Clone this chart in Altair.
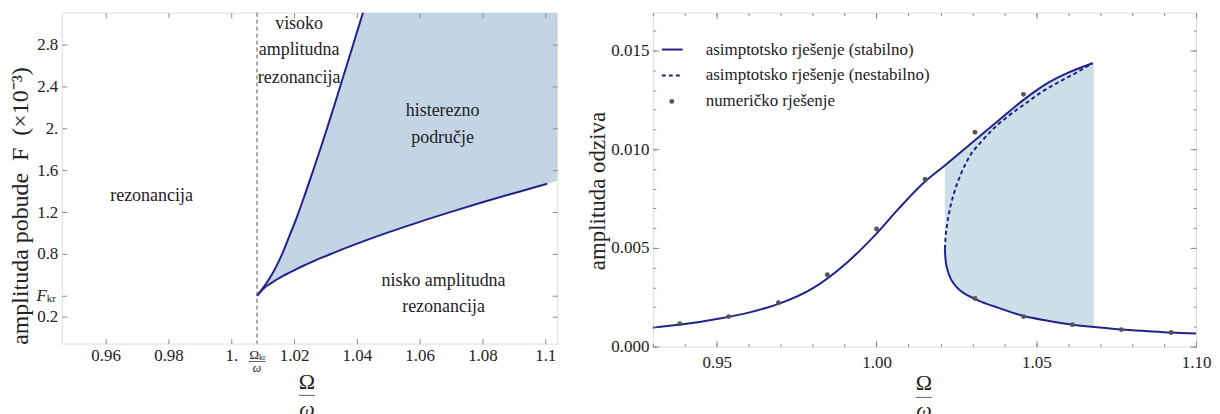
import altair as alt
import pandas as pd

FONT = "Liberation Serif"
INK = "#222222"
FRAME = "#8c8c8c"
LINE = "#22228a"
FILL_L = "#c3d5e4"
FILL_R = "#cddfe9"
DOT = "#555555"

# ---------------- left panel data ----------------
L_X_DOMAIN = [0.94603, 1.1038]
L_Y_DOMAIN = [-0.0571, 3.105]
OMEGA_KR = 1.0082
F_KR = 0.40

upper_x = [1.0082, 1.0105, 1.0127, 1.0145, 1.0165, 1.0185, 1.0205, 1.0228, 1.026, 1.029, 1.032, 1.0349, 1.038, 1.042]
upper_y = [0.40, 0.49, 0.59, 0.69, 0.82, 0.97, 1.12, 1.31, 1.59, 1.86, 2.14, 2.42, 2.72, 3.11]

lower_x = [1.0082, 1.0105, 1.0127, 1.0145, 1.0165, 1.0185, 1.0205, 1.0228, 1.026, 1.029,
           1.032, 1.0349, 1.038, 1.042, 1.05, 1.06, 1.07, 1.08, 1.09, 1.1006]
lower_y = [0.40, 0.475, 0.52, 0.555, 0.59, 0.62, 0.65, 0.684, 0.727, 0.766,
           0.803, 0.838, 0.874, 0.919, 1.005, 1.106, 1.201, 1.293, 1.38, 1.47]

fill_l_x = [1.0082, 1.0105, 1.0127, 1.0145, 1.0165, 1.0185, 1.0205, 1.0228, 1.026, 1.029,
            1.032, 1.0349, 1.038, 1.042, 1.05, 1.06, 1.07, 1.08, 1.09, 1.1006, 1.104]
fill_l_low = [0.40, 0.475, 0.52, 0.555, 0.59, 0.62, 0.65, 0.684, 0.727, 0.766,
              0.803, 0.838, 0.874, 0.919, 1.005, 1.106, 1.201, 1.293, 1.38, 1.47, 1.498]
fill_l_high = [0.40, 0.49, 0.59, 0.69, 0.82, 0.97, 1.12, 1.31, 1.59, 1.86,
               2.14, 2.42, 2.72, 3.11, 3.3, 3.3, 3.3, 3.3, 3.3, 3.3, 3.3]

L_XTICKS = [0.96, 0.98, 1.0, 1.02, 1.04, 1.06, 1.08, 1.1]
L_XLABELS = ["0.96", "0.98", "1.", "1.02", "1.04", "1.06", "1.08", "1.1"]
L_YTICKS = [0.2, 0.4, 0.8, 1.2, 1.6, 2.0, 2.4, 2.8]
L_YLABELS = ["0.2", "", "0.8", "1.2", "1.6", "2.", "2.4", "2.8"]

ann_text = ["rezonancija", "visoko", "amplitudna", "rezonancija", "histerezno", "područje",
            "nisko amplitudna", "rezonancija"]
ann_x = [0.9746, 1.0216, 1.0216, 1.0216, 1.0673, 1.0673, 1.0676, 1.0676]
ann_y = [1.352, 3.0, 2.752, 2.476, 2.162, 1.905, 0.543, 0.295]

# ---------------- right panel data ----------------
R_X_DOMAIN = [0.93, 1.10]
R_Y_DOMAIN = [0.0, 0.016919]

stab_x = [0.93, 0.94, 0.95, 0.96, 0.97, 0.98, 0.99, 1.00, 1.007, 1.0152, 1.0211, 1.0308,
          1.038, 1.046, 1.053, 1.060, 1.0676]
stab_y = [0.00096, 0.00114, 0.00140, 0.00172, 0.00220, 0.00295, 0.00415, 0.00572, 0.00700,
          0.00836, 0.00914, 0.01045, 0.01143, 0.01250, 0.01330, 0.01388, 0.01436]

low_x = [1.0214, 1.0216, 1.0221, 1.0229, 1.0242, 1.0262, 1.0290, 1.0330, 1.0382, 1.046,
         1.054, 1.0613, 1.07, 1.0766, 1.085, 1.0922, 1.10]
low_y = [0.00495, 0.00440, 0.00395, 0.00355, 0.00318, 0.00284, 0.00255, 0.00225, 0.00196,
         0.00155, 0.00130, 0.00111, 0.00097, 0.00087, 0.00078, 0.00071, 0.00066]

unst_x = [1.0214, 1.0216, 1.0221, 1.0230, 1.0245, 1.0264, 1.029, 1.0329, 1.037, 1.0414,
          1.0465, 1.0517, 1.057, 1.0623, 1.0676]
unst_y = [0.00495, 0.0055, 0.0062, 0.0070, 0.0079, 0.00874, 0.0096, 0.0104, 0.0111, 0.0117,
          0.01230, 0.01290, 0.0134, 0.01386, 0.01436]

fill_r_x = [1.0214, 1.0216, 1.0221, 1.0229, 1.0242, 1.0262, 1.029, 1.033, 1.0382, 1.046,
            1.054, 1.0613, 1.068]
fill_r_low = [0.00495, 0.0044, 0.00395, 0.00355, 0.00318, 0.00284, 0.00255, 0.00225, 0.00196,
              0.00155, 0.0013, 0.00111, 0.00100]
fill_r_high = [0.00918, 0.00920, 0.00926, 0.00937, 0.00954, 0.00980, 0.01017, 0.01070, 0.01140,
               0.01250, 0.01337, 0.01395, 0.01438]

num_x = [0.9384, 0.9537, 0.9693, 0.9846, 1.0, 1.0152, 1.0308, 1.0308, 1.046, 1.046, 1.0613,
         1.0766, 1.0922]
num_y = [0.00116, 0.00152, 0.00222, 0.00364, 0.00596, 0.00848, 0.01086, 0.00244, 0.01278,
         0.00152, 0.00111, 0.00086, 0.00071]

R_XTICKS = [0.95, 1.0, 1.05, 1.1]
R_XLABELS = ["0.95", "1.00", "1.05", "1.10"]
R_XMINOR = [0.93, 0.94, 0.95, 0.96, 0.97, 0.98, 0.99, 1.0, 1.01, 1.02, 1.03, 1.04, 1.05,
            1.06, 1.07, 1.08, 1.09, 1.1]
R_YTICKS = [0.0, 0.005, 0.01, 0.015]
R_YLABELS = ["0.000", "0.005", "0.010", "0.015"]
R_YMINOR = [0.0, 0.001, 0.002, 0.003, 0.004, 0.005, 0.006, 0.007, 0.008, 0.009, 0.01,
            0.011, 0.012, 0.013, 0.014, 0.015, 0.016]

LEGEND_LABELS = ["asimptotsko rješenje (stabilno)", "asimptotsko rješenje (nestabilno)",
                 "numeričko rješenje"]


def label_expr(values, labels):
    expr = "''"
    for v, lab in reversed(list(zip(values, labels))):
        expr = f"abs(datum.value - {v}) < 1e-9 ? '{lab}' : {expr}"
    return expr


def make_axis(orient, values, labels=None, size=5, pad=9):
    props = dict(orient=orient, values=values, title=None, domain=False, grid=False,
                 ticks=True, tickColor=FRAME, tickWidth=1,
                 tickSize=alt.ExprRef(expr=str(-size)), zindex=1)
    if labels is None:
        props["labels"] = False
    else:
        props.update(labels=True, labelExpr=label_expr(values, labels), labelFont=FONT,
                     labelFontSize=17, labelColor=INK, labelPadding=pad,
                     labelOverlap=False, labelFlush=False)
    return alt.Axis(**props)


def text_px(txt, x, y, size, **kw):
    return alt.Chart(pd.DataFrame({"t": [txt]})).mark_text(
        font=FONT, fontSize=size, color=INK, **kw).encode(
        text="t:N", x=alt.value(x), y=alt.value(y))


def bar_px(x, y, length):
    return alt.Chart(pd.DataFrame({"t": [0]})).mark_tick(
        orient="horizontal", size=length, thickness=1, color=INK).encode(
        x=alt.value(x), y=alt.value(y))


# ---------------- left panel ----------------
xs_l = alt.Scale(domain=L_X_DOMAIN, nice=False, zero=False)
ys_l = alt.Scale(domain=L_Y_DOMAIN, nice=False, zero=False)

df_fill_l = pd.DataFrame({"x": fill_l_x, "low": fill_l_low, "high": fill_l_high})
fill_l = alt.Chart(df_fill_l).mark_area(color=FILL_L, clip=True, interpolate="monotone").encode(
    x=alt.X("x:Q", scale=xs_l, axis=make_axis("bottom", L_XTICKS, L_XLABELS, 5, 9)),
    y=alt.Y("low:Q", scale=ys_l, axis=make_axis("left", L_YTICKS, L_YLABELS, 5, 9)),
    y2="high:Q")

up_l = alt.Chart(pd.DataFrame({"x": upper_x, "y": upper_y})).mark_line(
    color=LINE, strokeWidth=2, clip=True, interpolate="monotone").encode(
    x=alt.X("x:Q", scale=xs_l, axis=make_axis("top", L_XTICKS)),
    y=alt.Y("y:Q", scale=ys_l, axis=make_axis("right", L_YTICKS)))

low_l = alt.Chart(pd.DataFrame({"x": lower_x, "y": lower_y})).mark_line(
    color=LINE, strokeWidth=2, clip=True, interpolate="monotone").encode(
    x=alt.X("x:Q", scale=xs_l, axis=None),
    y=alt.Y("y:Q", scale=ys_l, axis=None))

vline = alt.Chart(pd.DataFrame({"x": [OMEGA_KR]})).mark_rule(
    color="#555555", strokeDash=[4, 3], strokeWidth=1).encode(
    x=alt.X("x:Q", scale=xs_l, axis=None))

ann = alt.Chart(pd.DataFrame({"x": ann_x, "y": ann_y, "t": ann_text})).mark_text(
    font=FONT, fontSize=18, color=INK).encode(
    x=alt.X("x:Q", scale=xs_l, axis=None),
    y=alt.Y("y:Q", scale=ys_l, axis=None),
    text="t:N")

fkr_src = alt.Chart(pd.DataFrame({"v": [F_KR], "a": ["F"], "b": ["kr"]}))
fkr_F = fkr_src.mark_text(font=FONT, fontSize=17, fontStyle="italic", color=INK,
                          align="right").encode(
    x=alt.value(-15), y=alt.Y("v:Q", scale=ys_l, axis=None), text="a:N")
fkr_kr = fkr_src.mark_text(font=FONT, fontSize=11, color=INK, align="left", dy=3).encode(
    x=alt.value(-15), y=alt.Y("v:Q", scale=ys_l, axis=None), text="b:N")

okr_src = alt.Chart(pd.DataFrame({"x": [OMEGA_KR], "a": ["Ω"], "b": ["kr"], "c": ["ω"]}))
okr_O = okr_src.mark_text(font=FONT, fontSize=13, color=INK, align="right", dx=2).encode(
    x=alt.X("x:Q", scale=xs_l, axis=None), y=alt.value(343), text="a:N")
okr_kr = okr_src.mark_text(font=FONT, fontSize=8, color=INK, align="left", dx=2).encode(
    x=alt.X("x:Q", scale=xs_l, axis=None), y=alt.value(346), text="b:N")
okr_bar = okr_src.mark_tick(orient="horizontal", size=17, thickness=1, color=INK).encode(
    x=alt.X("x:Q", scale=xs_l, axis=None), y=alt.value(350))
okr_w = okr_src.mark_text(font=FONT, fontSize=12, fontStyle="italic", color=INK).encode(
    x=alt.X("x:Q", scale=xs_l, axis=None), y=alt.value(357), text="c:N")

ttl_O_l = text_px("Ω", 246, 371, 22)
ttl_bar_l = bar_px(246, 384, 16)
ttl_w_l = text_px("ω", 246, 398, 22, fontStyle="italic")
ytitle_l = text_px("amplituda pobude\u2002F\u2002(×10⁻³)", -41, 194, 24, angle=270)

left = alt.layer(
    fill_l, up_l, low_l, vline, ann, fkr_F, fkr_kr, okr_O, okr_kr, okr_bar, okr_w,
    ttl_O_l, ttl_bar_l, ttl_w_l, ytitle_l
).properties(width=497, height=332).resolve_axis(x="independent", y="independent")

# ---------------- right panel ----------------
xs_r = alt.Scale(domain=R_X_DOMAIN, nice=False, zero=False)
ys_r = alt.Scale(domain=R_Y_DOMAIN, nice=False, zero=False)

fill_r = alt.Chart(pd.DataFrame({"x": fill_r_x, "low": fill_r_low, "high": fill_r_high})).mark_area(
    color=FILL_R, interpolate="monotone").encode(
    x=alt.X("x:Q", scale=xs_r, axis=make_axis("bottom", R_XTICKS, R_XLABELS, 6, 14)),
    y=alt.Y("low:Q", scale=ys_r, axis=make_axis("left", R_YTICKS, R_YLABELS, 6, 10)),
    y2="high:Q")

stab_r = alt.Chart(pd.DataFrame({"x": stab_x, "y": stab_y})).mark_line(
    color=LINE, strokeWidth=2, interpolate="monotone").encode(
    x=alt.X("x:Q", scale=xs_r, axis=make_axis("bottom", R_XMINOR, None, 3)),
    y=alt.Y("y:Q", scale=ys_r, axis=make_axis("left", R_YMINOR, None, 3)))

unst_r = alt.Chart(pd.DataFrame({"x": unst_x, "y": unst_y})).mark_line(
    color=LINE, strokeWidth=2, strokeDash=[4, 3], interpolate="monotone").encode(
    x=alt.X("x:Q", scale=xs_r, axis=make_axis("top", R_XTICKS, None, 6)),
    y=alt.Y("y:Q", scale=ys_r, axis=make_axis("right", R_YTICKS, None, 6)))

low_r = alt.Chart(pd.DataFrame({"x": low_x, "y": low_y})).mark_line(
    color=LINE, strokeWidth=2, interpolate="monotone").encode(
    x=alt.X("x:Q", scale=xs_r, axis=make_axis("top", R_XMINOR, None, 3)),
    y=alt.Y("y:Q", scale=ys_r, axis=make_axis("right", R_YMINOR, None, 3)))

pts_r = alt.Chart(pd.DataFrame({"x": num_x, "y": num_y})).mark_circle(
    color=DOT, size=24, opacity=1).encode(
    x=alt.X("x:Q", scale=xs_r, axis=None),
    y=alt.Y("y:Q", scale=ys_r, axis=None))

leg_line1 = alt.Chart(pd.DataFrame({"t": [0]})).mark_rule(color=LINE, strokeWidth=2).encode(
    x=alt.value(9), x2=alt.value(30), y=alt.value(37))
leg_line2 = alt.Chart(pd.DataFrame({"t": [0]})).mark_rule(
    color=LINE, strokeWidth=2, strokeDash=[4, 3]).encode(
    x=alt.value(9), x2=alt.value(30), y=alt.value(63))
leg_dot = alt.Chart(pd.DataFrame({"t": [0]})).mark_circle(color=DOT, size=24, opacity=1).encode(
    x=alt.value(19), y=alt.value(89))
leg_t1 = text_px(LEGEND_LABELS[0], 53, 37, 17, align="left")
leg_t2 = text_px(LEGEND_LABELS[1], 53, 63, 17, align="left")
leg_t3 = text_px(LEGEND_LABELS[2], 53, 89, 17, align="left")

ttl_O_r = text_px("Ω", 272, 372, 22)
ttl_bar_r = bar_px(272, 386, 16)
ttl_w_r = text_px("ω", 272, 399, 22, fontStyle="italic")
ytitle_r = text_px("amplituda odziva", -55, 179, 23, angle=270)

right = alt.layer(
    fill_r, stab_r, unst_r, low_r, pts_r, leg_line1, leg_line2, leg_dot, leg_t1, leg_t2, leg_t3,
    ttl_O_r, ttl_bar_r, ttl_w_r, ytitle_r
).properties(width=545, height=335).resolve_axis(x="independent", y="independent")

chart = alt.hconcat(
    left, right, spacing=96, bounds="flush",
    padding={"left": 0, "top": 3, "right": 0, "bottom": 0}
).configure_view(stroke=FRAME, strokeWidth=1).configure(font=FONT, background="white")

chart.save("out.html", embed_options={"renderer": "svg", "actions": False})
